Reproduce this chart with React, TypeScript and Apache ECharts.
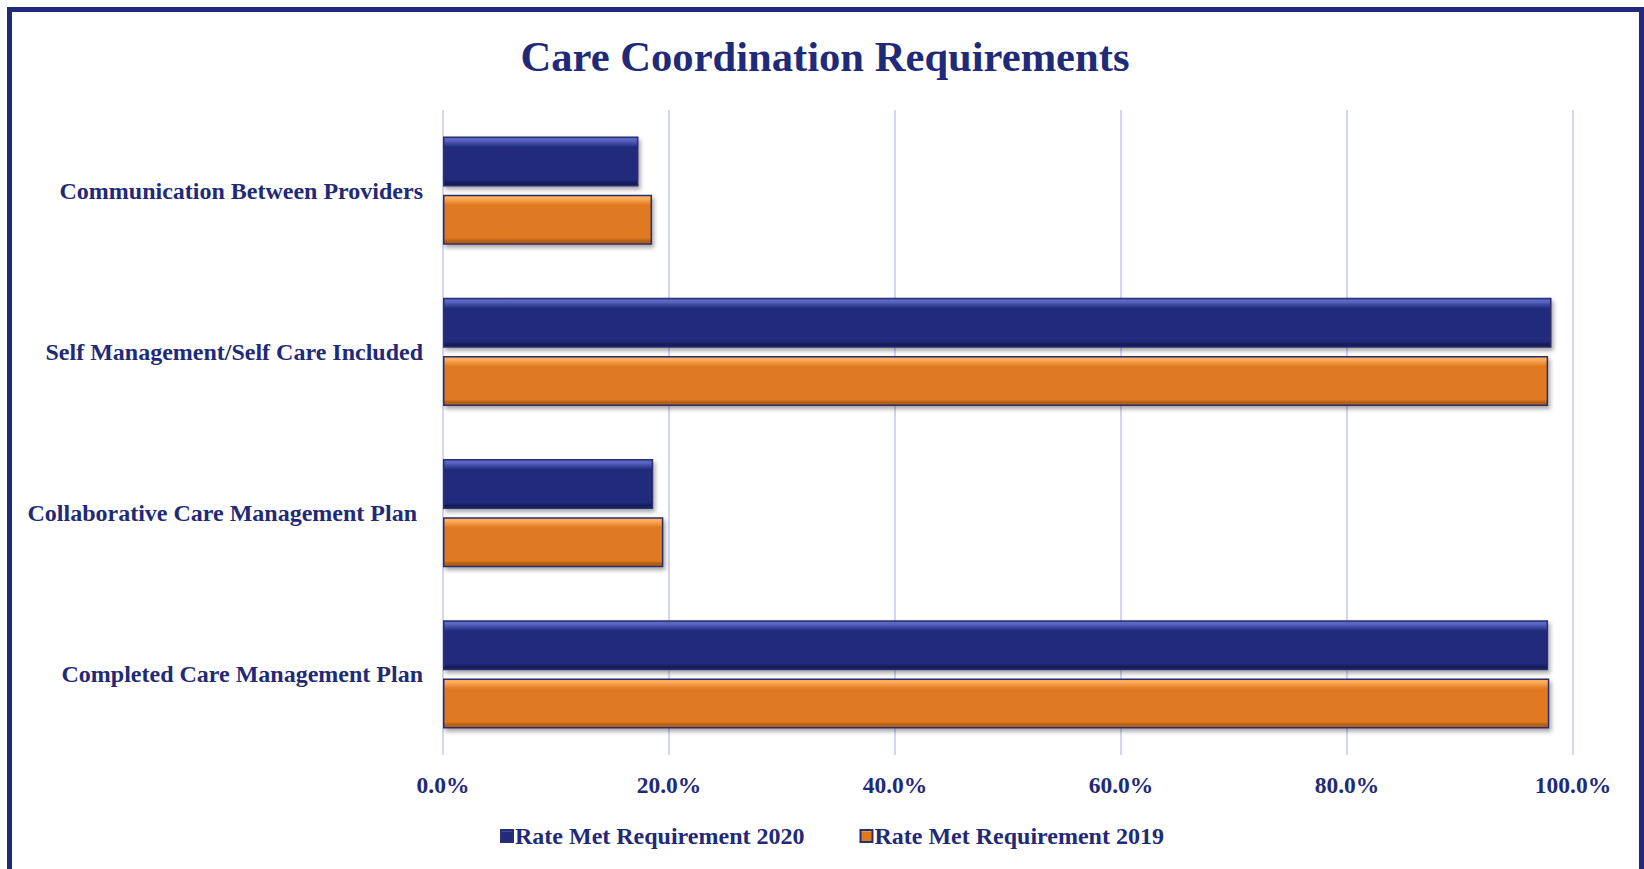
import React, { useEffect, useRef } from "react";
import * as echarts from "echarts";

const categories = [
  "Communication Between Providers",
  "Self Management/Self Care Included",
  "Collaborative Care Management Plan ",
  "Completed Care Management Plan",
];
const rate2020 = [17.3, 98.1, 18.6, 97.8];
const rate2019 = [18.5, 97.8, 19.5, 97.9];
const seriesNames = ["Rate Met Requirement 2020", "Rate Met Requirement 2019"];

const NAVY = "#1f2a78";
const FONT = '"Liberation Serif", "Times New Roman", serif';

function barStyle(main: string, light: string, dark: string) {
  return {
    color: {
      type: "linear",
      x: 0,
      y: 0,
      x2: 0,
      y2: 1,
      colorStops: [
        { offset: 0, color: light },
        { offset: 0.06, color: light },
        { offset: 0.2, color: main },
        { offset: 0.88, color: main },
        { offset: 0.94, color: dark },
        { offset: 1, color: dark },
      ],
    },
    borderColor: "#2b2f6e",
    borderWidth: 1.5,
    shadowColor: "rgba(0,0,0,0.35)",
    shadowBlur: 4,
    shadowOffsetX: 2,
    shadowOffsetY: 3,
  };
}

export default function App() {
  const ref = useRef<HTMLDivElement>(null);
  useEffect(() => {
    if (!ref.current) return;
    const chart = echarts.init(ref.current, undefined, { renderer: "svg" });
    chart.setOption({
      animation: false,
      backgroundColor: "#ffffff",
      title: {
        text: "Care Coordination Requirements",
        left: 820,
        top: 30,
        textAlign: "center",
        textStyle: { fontFamily: FONT, fontWeight: "bold", fontSize: 42.6, color: NAVY },
      },
      legend: {
        bottom: 16,
        left: 495,
        itemWidth: 12,
        itemHeight: 12,
        itemGap: 55,
        icon: "rect",
        textStyle: { fontFamily: FONT, fontWeight: "bold", fontSize: 24, color: NAVY, padding: [0, 0, 0, -3] },
        data: seriesNames,
      },
      grid: { left: 443, right: 71, top: 110, bottom: 114 },
      xAxis: {
        type: "value",
        min: 0,
        max: 100,
        interval: 20,
        axisLine: { show: false },
        axisTick: { show: false },
        splitLine: { show: true, lineStyle: { color: "#d3d6f3", width: 2 } },
        axisLabel: {
          margin: 18,
          formatter: (v: number) => v.toFixed(1) + "%",
          fontFamily: FONT,
          fontWeight: "bold",
          fontSize: 23.5,
          color: NAVY,
        },
      },
      yAxis: {
        type: "category",
        inverse: true,
        data: categories,
        axisLine: { show: false },
        axisTick: { show: false },
        axisLabel: {
          margin: 20,
          fontFamily: FONT,
          fontWeight: "bold",
          fontSize: 24,
          color: NAVY,
        },
      },
      series: [
        {
          name: seriesNames[0],
          type: "bar",
          data: rate2020,
          barGap: "16%",
          barCategoryGap: "33%",
          itemStyle: barStyle("#212b7c", "#5a66c4", "#151c5a"),
        },
        {
          name: seriesNames[1],
          type: "bar",
          data: rate2019,
          barGap: "16%",
          barCategoryGap: "33%",
          itemStyle: barStyle("#df7a21", "#ffae5c", "#b55e12"),
        },
      ],
      graphic: [
        {
          type: "rect",
          shape: { x: 9.5, y: 9.5, width: 1632, height: 1000 },
          style: { fill: "none", stroke: NAVY, lineWidth: 5 },
          silent: true,
        },
      ],
    });
    return () => chart.dispose();
  }, []);
  return (
    <div
      ref={ref}
      style={{ position: "fixed", left: 0, top: 0, width: 1644, height: 869 }}
    />
  );
}
